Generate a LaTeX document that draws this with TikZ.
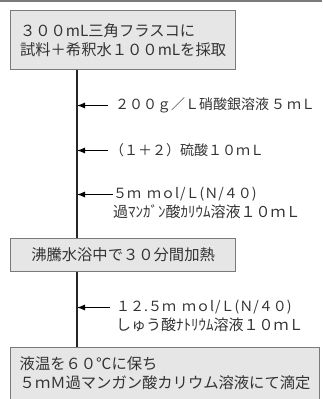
\documentclass[tikz,border=0pt]{standalone}
\usepackage{fontspec}
\setmainfont{Noto Sans CJK JP}
\usepackage{xcolor}
\usetikzlibrary{arrows.meta, positioning}

\definecolor{boxfill}{HTML}{E6E6E6}
\definecolor{boxline}{HTML}{7A7A7A}
\definecolor{inkgray}{HTML}{333333}

\begin{document}
\begin{tikzpicture}[x=1pt, y=-1pt,
    stepbox/.style={draw=boxline, fill=boxfill, line width=1.2pt, anchor=north west,
        align=left, inner xsep=7pt, font=\fontsize{15.3}{19}\selectfont, text=inkgray},
    addlabel/.style={anchor=west, inner sep=0pt,
        font=\fontsize{14}{18}\selectfont, text=inkgray},
    sublabel/.style={addlabel, anchor=north west, font=\fontsize{15}{18}\selectfont},
    addarrow/.style={-{Latex[length=8pt,width=6pt]}, line width=1pt, draw=black}]
    \useasboundingbox (0,0) rectangle (322,399);

    % Top rule
    \fill[boxline] (0,0) rectangle (322,2);

    % Steps
    \node[stepbox, minimum width=225pt, minimum height=59pt] (flask) at (10,10)
        {３００mL三角フラスコに\\試料＋希釈水１００mLを採取};
    \node[stepbox, minimum width=225pt, minimum height=33pt, align=center] (heat) at (10,238)
        {沸騰水浴中で３０分間加熱};
    \node[stepbox, minimum width=309pt, minimum height=72pt, text depth=22pt] (titr) at (10,347)
        {液温を６０℃に保ち\\５ｍＭ過マンガン酸カリウム溶液にて滴定};

    % Spine
    \coordinate (spine) at (77,0);
    \draw[line width=1.8pt, draw=black!85] (flask.south -| spine) -- (heat.north -| spine);
    \draw[line width=1.8pt, draw=black!85] (heat.south -| spine) -- (titr.north -| spine);

    % Additions
    \node[addlabel] (silver) at (115,105) {２００ｇ／Ｌ硝酸銀溶液\hspace{2pt}５\hspace{2pt}ｍＬ};
    \node[addlabel] (acid) at (110,150) {（１＋２）硫酸１０ｍＬ};
    \node[addlabel] (perm) at (113,194) {５ｍ\hspace{6pt}ｍｏl\hspace{1pt}/Ｌ(Ｎ/４０)};
    \node[sublabel] (permname) at ([yshift=-3pt]perm.south west)
        {過ﾏﾝｶﾞﾝ酸ｶﾘｳﾑ溶液１０ｍＬ};
    \node[addlabel] (oxal) at (116,307) {１２.５ｍ\hspace{6pt}ｍｏl\hspace{1pt}/Ｌ(Ｎ/４０)};
    \node[sublabel] (oxalname) at ([yshift=-3pt]oxal.south west)
        {しゅう酸ﾅﾄﾘｳﾑ溶液１０ｍＬ};

    % Arrows into the spine
    \coordinate (a1) at (108,105.5);
    \coordinate (a2) at (108,150.5);
    \coordinate (a3) at (113,194.5);
    \coordinate (a4) at (110,307.5);
    \draw[addarrow] (a1) -- (a1 -| spine);
    \draw[addarrow] (a2) -- (a2 -| spine);
    \draw[addarrow] (a3) -- (a3 -| spine);
    \draw[addarrow] (a4) -- (a4 -| spine);
\end{tikzpicture}
\end{document}
